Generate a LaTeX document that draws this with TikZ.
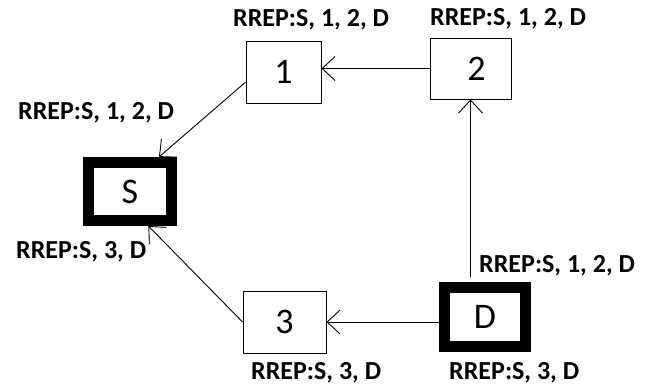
\documentclass[tikz,border=0pt]{standalone}
\usepackage{fontspec}
\setmainfont{Carlito}
\usetikzlibrary{positioning,calc,arrows.meta}

\tikzset{
  peer/.style={rectangle,draw,line width=0.9pt,inner sep=0pt,font=\fontsize{36}{38}\selectfont},
  endpoint/.style={peer,line width=11pt},
  rrep/.style={anchor=base west,inner sep=0pt,font=\fontsize{26}{28}\selectfont\bfseries},
  hop/.style={line width=0.9pt,-{Straight Barb[length=13pt,width=24pt,line width=0.9pt]}}
}

\begin{document}
\begin{tikzpicture}[x=1pt,y=-1pt]
\useasboundingbox (0,0) rectangle (651,387);

% nodes of the route
\node[peer,minimum width=75pt,minimum height=62pt] (n1) at (283.5,72) {1};
\node[peer,minimum width=81pt,minimum height=61pt] (n2) at (470.5,68.5) {\hspace*{12pt}2};
\node[endpoint,minimum width=83pt,minimum height=58pt] (nS) at (130,191.5) {S};
\node[peer,minimum width=83pt,minimum height=62pt] (n3) at (284.5,322) {3};
\node[endpoint,minimum width=81pt,minimum height=59pt] (nD) at (485,317) {D};

% route replies
\node[rrep] (r1) at (233,27) {RREP:S, 1, 2, D};
\node[rrep] (r2) at (430,26) {RREP:S, 1, 2, D};
\node[rrep] (rS12) at (18,120) {RREP:S, 1, 2, D};
\node[rrep] (rS3) at (16,259) {RREP:S, 3, D};
\node[rrep] (rD12) at (479,273) {RREP:S, 1, 2, D};
\node[rrep] (r3) at (251,380) {RREP:S, 3, D};
\node[rrep] (rD3) at (449,380) {RREP:S, 3, D};

\draw[hop] (n2.west) -- (n2.west -| n1.east);
\draw[hop] (n1.195) -- (nS.50);
\draw[hop] ([yshift=5pt]nD.north -| n2.south) -- (n2.south);
\draw[hop] (nD.west |- n3.east) -- (n3.east);
\draw[hop] (n3.west) -- (nS.298);
\end{tikzpicture}
\end{document}
